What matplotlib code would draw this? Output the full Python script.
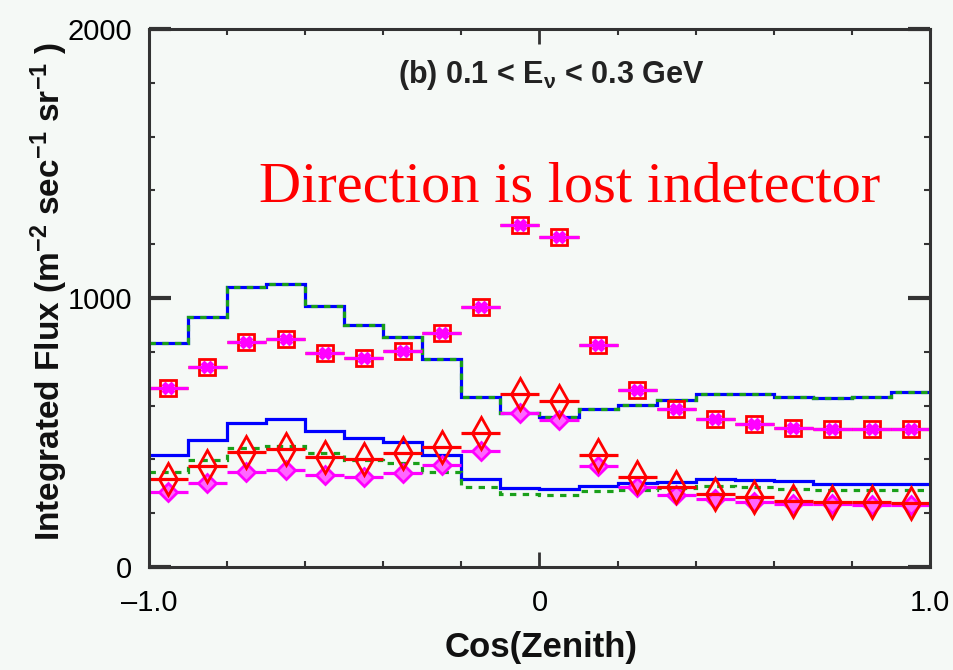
import numpy as np
import matplotlib
matplotlib.use('Agg')
import matplotlib.pyplot as plt
from matplotlib.ticker import FixedLocator, FixedFormatter, MultipleLocator

plt.rcParams['font.family'] = ['Liberation Sans', 'DejaVu Sans']
plt.rcParams['mathtext.fontset'] = 'custom'
plt.rcParams['mathtext.rm'] = 'Liberation Sans:bold'
plt.rcParams['mathtext.it'] = 'Liberation Sans:bold'
plt.rcParams['mathtext.bf'] = 'Liberation Sans:bold'

# bin edges and centres in cos(zenith)
edges = [-1.0, -0.9, -0.8, -0.7, -0.6, -0.5, -0.4, -0.3, -0.2, -0.1, 0.0,
         0.1, 0.2, 0.3, 0.4, 0.5, 0.6, 0.7, 0.8, 0.9, 1.0]
cos_zenith = [-0.95, -0.85, -0.75, -0.65, -0.55, -0.45, -0.35, -0.25, -0.15, -0.05,
              0.05, 0.15, 0.25, 0.35, 0.45, 0.55, 0.65, 0.75, 0.85, 0.95]

# model histograms (upper: nu_mu, lower: nu_e)
upper_blue = [834, 930, 1040, 1051, 970, 900, 854, 772, 633, 572,
              558, 586, 602, 620, 643, 645, 633, 627, 633, 649]
upper_green = [834, 930, 1040, 1051, 970, 900, 854, 772, 633, 572,
               558, 586, 602, 620, 643, 645, 633, 627, 633, 649]
lower_blue = [416, 472, 536, 549, 507, 478, 463, 416, 327, 294,
              289, 301, 311, 317, 327, 323, 321, 309, 309, 309]
lower_green = [354, 398, 441, 450, 423, 398, 385, 354, 299, 271,
               268, 284, 286, 292, 301, 296, 289, 286, 286, 286]

# point series
square_red = [664, 745, 838, 846, 794, 776, 804, 869, 968, 1271,
              1228, 825, 658, 586, 549, 532, 516, 514, 513, 512]
square_magenta = [664, 745, 838, 846, 794, 776, 804, 869, 968, 1271,
                  1228, 825, 658, 586, 549, 532, 516, 514, 513, 512]
diamond_red = [326, 375, 429, 438, 408, 400, 423, 447, 497, 643,
               618, 416, 333, 296, 270, 259, 245, 242, 240, 238]
diamond_magenta = [280, 313, 354, 361, 342, 333, 348, 379, 432, 571,
                   546, 375, 299, 268, 252, 243, 236, 234, 232, 230]

bg = '#f5f9f6'
fig = plt.figure(figsize=(9.54, 6.70), dpi=100, facecolor=bg)
ax = fig.add_axes([0.156, 0.1537, 0.819, 0.803], facecolor=bg)

lw = 2.3
ax.stairs(upper_blue, edges, baseline=None, color='#0000ff', lw=lw, zorder=2)
ax.stairs(upper_green, edges, baseline=None, color='#1aa01a', lw=lw, ls=(0, (2, 2)), zorder=3)
ax.stairs(lower_blue, edges, baseline=None, color='#0000ff', lw=lw, zorder=2)
ax.stairs(lower_green, edges, baseline=None, color='#1aa01a', lw=lw, ls=(0, (2, 2)), zorder=3)

ax.errorbar(cos_zenith, square_red, xerr=0.05, fmt='s', ms=11, mfc='none',
            mec='#ff0000', mew=2, color='#ff0000', elinewidth=lw, capsize=0, zorder=4)
ax.errorbar(cos_zenith, square_magenta, xerr=0.05, fmt='X', ms=9, mfc='#ff00ff',
            mec='#ff00ff', mew=1, color='#ff00ff', elinewidth=lw, capsize=0, zorder=5)
ax.errorbar(cos_zenith, diamond_magenta, xerr=0.05, fmt='D', ms=9, mfc='#ff66ff',
            mec='#ff00ff', mew=2, color='#ff00ff', elinewidth=lw, capsize=0, zorder=4)
ax.errorbar(cos_zenith, diamond_red, xerr=0.05, fmt='d', ms=16, mfc='none',
            mec='#ff0000', mew=2, color='#ff0000', elinewidth=lw, capsize=0, zorder=5)

ax.set_xlim(-1, 1)
ax.set_ylim(0, 2000)

for s in ax.spines.values():
    s.set_linewidth(2.2)
    s.set_color('#333333')
    s.set_zorder(6)

ax.xaxis.set_major_locator(FixedLocator([-1, 0, 1]))
ax.xaxis.set_major_formatter(FixedFormatter(['\u20131.0', '0', '1.0']))
ax.xaxis.set_minor_locator(MultipleLocator(0.2))
ax.yaxis.set_major_locator(FixedLocator([0, 1000, 2000]))
ax.yaxis.set_minor_locator(MultipleLocator(200))

ax.tick_params(which='both', direction='in', top=True, right=True, color='#333333')
ax.tick_params(axis='x', which='major', length=11, width=2, labelsize=21, pad=16)
ax.tick_params(axis='y', which='major', length=16, width=3, labelsize=21, pad=12)
ax.tick_params(which='minor', length=4, width=1.5)
for t in ax.yaxis.get_major_ticks():
    t.tick1line.set_color('#aaaaaa')
    t.tick2line.set_color('#aaaaaa')

ax.text(0.515, 0.914, r'(b) 0.1 < E$_{\nu}$ < 0.3 GeV', transform=ax.transAxes,
        ha='center', va='center', fontsize=22, fontweight='bold', color='#222222')
ax.text(0.539, 0.706, 'Direction is lost indetector', transform=ax.transAxes,
        ha='center', va='center', fontsize=42, color='#ff0000',
        family=['Liberation Serif', 'DejaVu Serif'])

fig.text(0.567, 0.033, 'Cos(Zenith)', ha='center', va='center',
         fontsize=25, fontweight='bold', color='#111111')
fig.text(0.052, 0.565, r'Integrated Flux (m$^{-2}$ sec$^{-1}$ sr$^{-1}$ )',
         rotation=90, ha='center', va='center', fontsize=24,
         fontweight='bold', color='#111111')

fig.savefig('out.png', dpi=100, facecolor=bg)
